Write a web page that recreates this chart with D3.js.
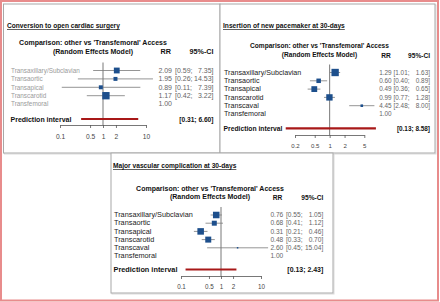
<!DOCTYPE html>
<html>
<head>
<meta charset="utf-8">
<script src="https://cdn.jsdelivr.net/npm/d3@7"></script>
<style>
  body { margin: 0; background: #fff; }
  text { font-family: "Liberation Sans", Arial, sans-serif; }
</style>
</head>
<body>
<div id="chart"></div>
<script>
// panel 1
var title1 = "Conversion to open cardiac surgery"
var access1 = ["Transaxillary/Subclavian", "Transaortic", "Transapical", "Transcarotid", "Transfemoral"]
var rr1 = [2.09, 1.95, 0.89, 1.17, 1.00]
var lo1 = [0.59, 0.26, 0.11, 0.42, null]
var hi1 = [7.35, 14.53, 7.39, 3.22, null]
var weight1 = [30, 14, 14, 48, 0]
var pred1 = [0.31, 6.60]
var ticks1 = [0.1, 0.5, 1, 2, 10]

// panel 2
var title2 = "Insertion of new pacemaker at 30-days"
var access2 = ["Transaxillary/Subclavian", "Transaortic", "Transapical", "Transcarotid", "Transcaval", "Transfemoral"]
var rr2 = [1.29, 0.60, 0.49, 0.99, 4.45, 1.00]
var lo2 = [1.01, 0.40, 0.36, 0.77, 2.48, null]
var hi2 = [1.63, 0.89, 0.65, 1.28, 8.00, null]
var weight2 = [48, 18, 30, 36, 6, 0]
var pred2 = [0.13, 8.58]
var ticks2 = [0.2, 0.5, 1, 2, 5]

// panel 3
var title3 = "Major vascular complication at 30-days"
var access3 = ["Transaxillary/Subclavian", "Transaortic", "Transapical", "Transcarotid", "Transcaval", "Transfemoral"]
var rr3 = [0.76, 0.68, 0.31, 0.48, 2.60, 1.00]
var lo3 = [0.55, 0.41, 0.21, 0.33, 0.45, null]
var hi3 = [1.05, 1.12, 0.46, 0.70, 15.04, null]
var weight3 = [38, 22, 38, 32, 2, 0]
var pred3 = [0.13, 2.43]
var ticks3 = [0.1, 0.5, 1, 2, 10]

var svg = d3.select("#chart")
  .append("svg")
  .attr("width", 440)
  .attr("height", 302)

// outer frame
svg.append("rect")
  .attr("x", 1).attr("y", 1)
  .attr("width", 437).attr("height", 299.5)
  .attr("fill", "none")
  .attr("stroke", "#e88c8c")
  .attr("stroke-width", 2)

function panel_box(x0, y0, x1, y1){
    svg.append("rect")
      .attr("x", x0 + 1).attr("y", y0 + 1)
      .attr("width", x1 - x0).attr("height", y1 - y0)
      .attr("fill", "none").attr("stroke", "#dcdcdc").attr("stroke-width", 1)
    svg.append("rect")
      .attr("x", x0).attr("y", y0)
      .attr("width", x1 - x0).attr("height", y1 - y0)
      .attr("fill", "#fff").attr("stroke", "#a8a8a8").attr("stroke-width", 1)
}
panel_box(3.5, 4, 220, 153)
panel_box(220, 4, 435, 153)
panel_box(111, 153, 333, 293)

var size = d3.scaleSqrt().domain([0, 50]).range([0, 7.5])

// font size so that a text gets a given width
function fit_size(sel, width){
    var fs = parseFloat(sel.attr("font-size"))
    var w = sel.node().getComputedTextLength()
    return fs * width / w
}

function forest(data, L){
    var g = svg.append("g")
    var x = d3.scaleLog().domain(L.dom).range(L.range)
    var yrow = function(i){ return L.y0 + i * L.step }

    var probe = g.append("text").attr("font-size", 10).text(data.access[0])
    var fs = fit_size(probe, L.labelW)
    probe.remove()
    var nfs = L.numFs

    var title = g.append("text")
      .attr("x", L.titleX).attr("y", L.titleY)
      .attr("font-size", 10).attr("font-weight", "bold")
      .attr("text-decoration", "underline")
      .attr("fill", "#111")
      .text(data.title)
    title.attr("font-size", fit_size(title, L.titleW))

    var comp = g.append("text")
      .attr("x", L.compX).attr("y", L.compY)
      .attr("text-anchor", "middle")
      .attr("font-size", 10).attr("font-weight", "bold").attr("fill", "#111")
      .text("Comparison: other vs 'Transfemoral' Access")
    var hfs = fit_size(comp, L.compW)
    comp.attr("font-size", hfs)
    g.append("text")
      .attr("x", L.compX).attr("y", L.compY + L.hdrGap)
      .attr("text-anchor", "middle")
      .attr("font-size", hfs).attr("font-weight", "bold").attr("fill", "#111")
      .text("(Random Effects Model)")
    var ci_hdr = g.append("text")
      .attr("x", L.ciEnd).attr("y", L.compY + L.hdrGap + 0.8)
      .attr("text-anchor", "end")
      .attr("font-size", 10).attr("font-weight", "bold").attr("fill", "#111")
      .text("95%-CI")
    var cfs = fit_size(ci_hdr, L.ciHdrW)
    ci_hdr.attr("font-size", cfs)
    g.append("text")
      .attr("x", L.rrRight - 1).attr("y", L.compY + L.hdrGap + 0.8)
      .attr("text-anchor", "end")
      .attr("font-size", cfs).attr("font-weight", "bold").attr("fill", "#111")
      .text("RR")

    // reference line at RR = 1
    g.append("line")
      .attr("x1", x(1)).attr("x2", x(1))
      .attr("y1", yrow(0) - 8).attr("y2", L.axisY)
      .attr("stroke", "#555").attr("stroke-width", 0.8)

    var rows = g.selectAll(".row")
      .data(data.access.map(function(a, i){
          return {name: a, rr: data.rr[i], lo: data.lo[i], hi: data.hi[i], w: data.weight[i], i: i}
      }))
      .enter()
      .append("g")

    rows.append("text")
      .attr("x", L.labelX).attr("y", function(d){ return yrow(d.i) + 2.2 })
      .attr("font-size", fs).attr("fill", L.labelColor)
      .text(function(d){ return d.name })

    rows.filter(function(d){ return d.lo != null })
      .append("line")
      .attr("x1", function(d){ return x(d.lo) })
      .attr("x2", function(d){ return x(d.hi) })
      .attr("y1", function(d){ return yrow(d.i) })
      .attr("y2", function(d){ return yrow(d.i) })
      .attr("stroke", "#7a7a7a").attr("stroke-width", 0.8)

    rows.filter(function(d){ return d.lo != null })
      .append("rect")
      .attr("x", function(d){ return x(d.rr) - size(d.w) / 2 })
      .attr("y", function(d){ return yrow(d.i) - size(d.w) / 2 })
      .attr("width", function(d){ return size(d.w) })
      .attr("height", function(d){ return size(d.w) })
      .attr("fill", "#1d4f8c")

    rows.append("text")
      .attr("x", L.rrRight).attr("y", function(d){ return yrow(d.i) + 2.2 })
      .attr("text-anchor", "end")
      .attr("font-size", nfs).attr("fill", L.numColor)
      .text(function(d){ return d.rr.toFixed(2) })
    rows.filter(function(d){ return d.lo != null })
      .append("text")
      .attr("x", L.ciStart).attr("y", function(d){ return yrow(d.i) + 2.2 })
      .attr("font-size", nfs).attr("fill", L.numColor)
      .text(function(d){ return "[" + d.lo.toFixed(2) + ";" })
    rows.filter(function(d){ return d.lo != null })
      .append("text")
      .attr("x", L.ciEnd).attr("y", function(d){ return yrow(d.i) + 2.2 })
      .attr("text-anchor", "end")
      .attr("font-size", nfs).attr("fill", L.numColor)
      .text(function(d){ return d.hi.toFixed(2) + "]" })

    // prediction interval
    var pred_lab = g.append("text")
      .attr("x", L.labelX - 0.5).attr("y", L.predY + 2.2)
      .attr("font-size", 10).attr("font-weight", "bold").attr("fill", "#111")
      .text("Prediction interval")
    var pfs = fit_size(pred_lab, L.predW)
    pred_lab.attr("font-size", pfs)
    g.append("line")
      .attr("x1", x(data.pred[0])).attr("x2", x(data.pred[1]))
      .attr("y1", L.predY - 0.5).attr("y2", L.predY - 0.5)
      .attr("stroke", "#a81818").attr("stroke-width", 2.2)
    g.append("text")
      .attr("x", L.ciEnd).attr("y", L.predY + 2.2)
      .attr("text-anchor", "end")
      .attr("font-size", pfs * 0.95).attr("font-weight", "bold").attr("fill", "#111")
      .text("[" + data.pred[0].toFixed(2) + "; " + data.pred[1].toFixed(2) + "]")

    // axis
    var axis = g.append("g")
      .attr("transform", "translate(0," + L.axisY + ")")
      .call(d3.axisBottom(x).tickValues(data.ticks).tickFormat(d3.format("")).tickSize(3).tickSizeOuter(0))
    axis.select(".domain").attr("stroke", "#555").attr("stroke-width", 0.8)
    axis.selectAll(".tick line").attr("stroke", "#555").attr("stroke-width", 0.8)
    axis.selectAll(".tick text")
      .attr("font-size", nfs * 0.95).attr("fill", "#444")
      .attr("font-family", "Liberation Sans, Arial, sans-serif")
      .attr("dy", 0).attr("y", L.tickLabelY - L.axisY)
}

forest({title: title1, access: access1, rr: rr1, lo: lo1, hi: hi1, weight: weight1, pred: pred1, ticks: ticks1}, {
    dom: [0.1, 10], range: [60, 146],
    titleX: 7, titleY: 28, titleW: 113, compX: 93, compY: 45, compW: 148, hdrGap: 8.5, ciHdrW: 24,
    y0: 70.5, step: 8.4, labelX: 11, labelW: 69, labelColor: "#9a9a9a", numColor: "#666", numFs: 7.0,
    rrRight: 172, ciStart: 175, ciEnd: 213.5,
    predY: 119.5, predW: 61, axisY: 125, tickLabelY: 138.5
})
forest({title: title2, access: access2, rr: rr2, lo: lo2, hi: hi2, weight: weight2, pred: pred2, ticks: ticks2}, {
    dom: [0.2, 5], range: [295, 364.3],
    titleX: 223, titleY: 28, titleW: 122, compX: 319.5, compY: 48, compW: 139, hdrGap: 8.8, ciHdrW: 22,
    y0: 72.5, step: 8.3, labelX: 224, labelW: 77.5, labelColor: "#1a1a1a", numColor: "#666", numFs: 6.4,
    rrRight: 391.7, ciStart: 393.5, ciEnd: 430,
    predY: 128.8, predW: 59, axisY: 135, tickLabelY: 148
})
forest({title: title3, access: access3, rr: rr3, lo: lo3, hi: hi3, weight: weight3, pred: pred3, ticks: ticks3}, {
    dom: [0.1, 10], range: [181, 261],
    titleX: 113, titleY: 168, titleW: 123.5, compX: 210, compY: 190.7, compW: 148, hdrGap: 8.5, ciHdrW: 22,
    y0: 215, step: 8.2, labelX: 114, labelW: 79, labelColor: "#1a1a1a", numColor: "#666", numFs: 6.6,
    rrRight: 283.3, ciStart: 286, ciEnd: 323.3,
    predY: 270, predW: 64, axisY: 276, tickLabelY: 288.5
})
</script>
</body>
</html>
